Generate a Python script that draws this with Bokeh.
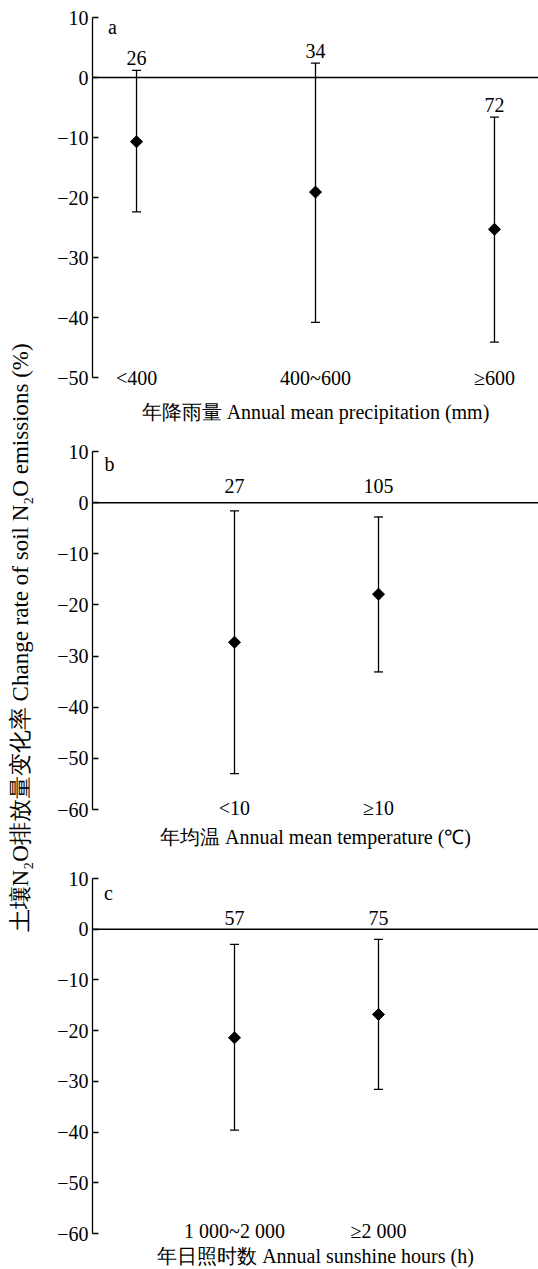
import numpy as np
from bokeh.plotting import figure
from bokeh.models import Range1d, FixedTicker, Span, Whisker, ColumnDataSource, Label, TeeHead
from bokeh.layouts import row, column
from bokeh.embed import file_html
from bokeh.resources import INLINE

FONT = "Liberation Serif"
FS = "20px"

# ---- data ----
precip_cats = ["<400", "400~600", "≥600"]
precip_mean = [-10.7, -19.1, -25.3]
precip_upper = [1.2, 2.4, -6.6]
precip_lower = [-22.4, -40.8, -44.1]
precip_n = [26, 34, 72]

temp_cats = ["<10", "≥10"]
temp_mean = [-27.3, -17.9]
temp_upper = [-1.6, -2.8]
temp_lower = [-53.0, -33.1]
temp_n = [27, 105]

sun_cats = ["1 000~2 000", "≥2 000"]
sun_mean = [-21.4, -16.8]
sun_upper = [-3.0, -2.0]
sun_lower = [-39.6, -31.6]
sun_n = [57, 75]

ylabel = "土壤N₂O排放量变化率  Change rate of soil N₂O emissions (%)"
xtitles = ["年降雨量 Annual mean precipitation (mm)",
           "年均温 Annual mean temperature (℃)",
           "年日照时数 Annual sunshine hours (h)"]


def make_panel(letter, cats, mean, upper, lower, n, xtitle, ymin, xr, height,
               top, bottom, count_offset, count_on_zero, label_standoff, title_standoff,
               letter_dx, letter_dy):
    idx = list(range(len(cats)))
    p = figure(width=498, height=height, x_range=Range1d(*xr), y_range=Range1d(ymin, 10),
               min_border_left=52, min_border_right=0, min_border_top=top,
               min_border_bottom=bottom, output_backend="svg", toolbar_location=None)
    p.outline_line_color = None
    p.xgrid.visible = False
    p.ygrid.visible = False

    # y axis
    yt = list(range(ymin, 11, 10))
    p.yaxis.ticker = FixedTicker(ticks=yt)
    p.yaxis.major_label_overrides = {v: str(v).replace("-", "−") for v in yt}
    p.yaxis.major_tick_in = 6
    p.yaxis.major_tick_out = 0
    p.yaxis.minor_tick_line_color = None
    p.yaxis.axis_line_width = 1.3
    p.yaxis.major_tick_line_width = 1.3
    p.yaxis.major_label_standoff = 4
    p.yaxis.major_label_text_font = FONT
    p.yaxis.major_label_text_font_size = FS
    p.yaxis.major_label_text_color = "black"

    # x axis
    p.xaxis.ticker = FixedTicker(ticks=idx)
    p.xaxis.major_label_overrides = {i: c for i, c in zip(idx, cats)}
    p.xaxis.axis_line_color = None
    p.xaxis.major_tick_line_color = None
    p.xaxis.minor_tick_line_color = None
    p.xaxis.major_label_standoff = label_standoff
    p.xaxis.major_label_text_font = FONT
    p.xaxis.major_label_text_font_size = FS
    p.xaxis.major_label_text_color = "black"
    p.xaxis.axis_label = xtitle
    p.xaxis.axis_label_text_font = FONT
    p.xaxis.axis_label_text_font_size = FS
    p.xaxis.axis_label_text_font_style = "normal"
    p.xaxis.axis_label_text_color = "black"
    p.xaxis.axis_label_standoff = title_standoff

    p.add_layout(Span(location=0, dimension="width", line_color="black", line_width=1.5))

    src = ColumnDataSource(dict(x=idx, mean=mean, upper=upper, lower=lower,
                                n=[str(v) for v in n],
                                ny=list(np.maximum(np.array(upper), 0)) if count_on_zero else upper))
    p.add_layout(Whisker(source=src, base="x", upper="upper", lower="lower",
                         dimension="height", line_width=1.3, line_color="black",
                         upper_head=TeeHead(size=9, line_width=1.3, line_color="black"),
                         lower_head=TeeHead(size=9, line_width=1.3, line_color="black")))
    p.scatter(x="x", y="mean", source=src, marker="square", size=8.5, angle=np.pi / 4,
              fill_color="black", line_color="black")
    p.text(x="x", y="ny", text="n", source=src, text_align="center", text_baseline="middle",
           y_offset=-count_offset, text_font=FONT, text_font_size=FS, text_color="black")

    p.add_layout(Label(x=xr[0], y=10, x_offset=letter_dx, y_offset=-letter_dy, text=letter,
                       text_align="center", text_baseline="middle", text_font=FONT,
                       text_font_size=FS, text_color="black"))
    return p


fa = make_panel("a", precip_cats, precip_mean, precip_upper, precip_lower, precip_n,
                xtitles[0], -50, (-0.246, 2.246), 430, 17, 53, 12, False, -17, 9, 20, 9)
fb = make_panel("b", temp_cats, temp_mean, temp_upper, temp_lower, temp_n,
                xtitles[1], -60, (-0.986, 2.111), 427, 21, 48, 17, True, -19, 4, 17, 12)
fc = make_panel("c", sun_cats, sun_mean, sun_upper, sun_lower, sun_n,
                xtitles[2], -60, (-0.986, 2.111), 412, 21, 35, 11, True, -20, 0, 16, 14)

fl = figure(width=40, height=1269, x_range=Range1d(0, 1), y_range=Range1d(0, 1),
            min_border=0, output_backend="svg", toolbar_location=None)
fl.axis.visible = False
fl.grid.visible = False
fl.outline_line_color = None
fl.add_layout(Label(x=0.5, y=0.5, angle=np.pi / 2, text=ylabel, text_align="center",
                    text_baseline="middle", text_font=FONT, text_font_size="23px",
                    text_color="black"))

layout = row(fl, column(fa, fb, fc, spacing=0), spacing=0)
open("out.html", "w").write(file_html(layout, INLINE))
